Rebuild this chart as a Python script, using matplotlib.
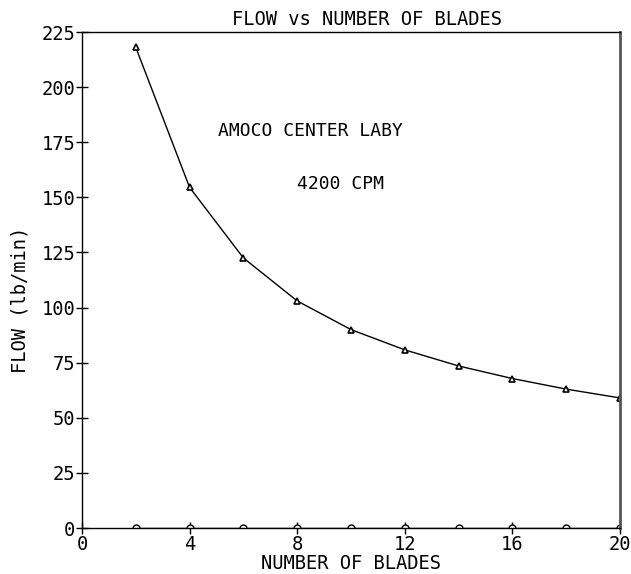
import matplotlib
matplotlib.use("Agg")
import matplotlib.pyplot as plt

blades = [2, 4, 6, 8, 10, 12, 14, 16, 18, 20]
flow = [218, 154.5, 122.5, 103, 90, 80.8, 73.5, 67.8, 63, 59]
flow_zero = [0, 0, 0, 0, 0, 0, 0, 0, 0, 0]
xticks = [0, 4, 8, 12, 16, 20]
yticks = [0, 25, 50, 75, 100, 125, 150, 175, 200, 225]

plt.rcParams['font.family'] = ['DejaVu Sans Mono']
fig = plt.figure(figsize=(6.31, 5.74), dpi=100)
ax = fig.add_axes([82/631, 46/574, 538/631, 496/574])

ax.plot(blades, flow, color='black', lw=1.0, marker='^', ms=5,
        mfc='white', mec='black', mew=1.2)
ax.plot(blades, flow_zero, color='black', lw=1.0, marker='o', ms=5,
        mfc='white', mec='black', mew=1.0)

ax.set_xlim(0, 20)
ax.set_ylim(0, 225)
ax.set_xticks(xticks)
ax.set_yticks(yticks)
ax.tick_params(direction='inout', length=8, width=1, labelsize=13.5, pad=1)
for s in ax.spines.values():
    s.set_linewidth(1.0)
ax.spines['right'].set_linewidth(2.0)
ax.spines['right'].set_color('#555555')

ax.set_title('FLOW vs NUMBER OF BLADES', fontsize=13.5, pad=5, x=0.53)
ax.set_xlabel('NUMBER OF BLADES', fontsize=13.5, labelpad=0)
ax.set_ylabel('FLOW (lb/min)', fontsize=13.5)
ax.yaxis.set_label_coords(-0.098, 0.46)

ax.text(8.5, 180, 'AMOCO CENTER LABY', fontsize=13, ha='center', va='center')
ax.text(9.6, 156, '4200 CPM', fontsize=13, ha='center', va='center')

fig.savefig('out.png', dpi=100)
